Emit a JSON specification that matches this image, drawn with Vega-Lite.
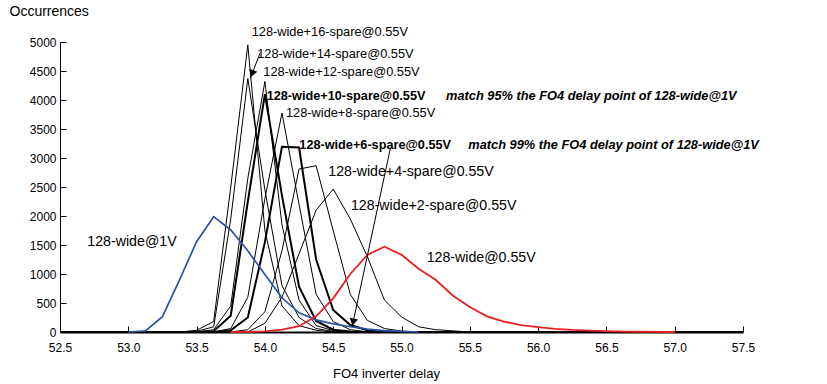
{
  "$schema": "https://vega.github.io/schema/vega-lite/v6.json",
  "width": 683,
  "height": 290,
  "autosize": {"type": "none"},
  "padding": {"left": 60, "top": 42, "right": 84, "bottom": 52},
  "background": "white",
  "config": {
    "view": {"stroke": null},
    "font": "Liberation Sans",
    "axis": {
      "domainColor": "black",
      "tickColor": "black",
      "labelColor": "black",
      "titleColor": "black",
      "labelFont": "Liberation Sans",
      "titleFont": "Liberation Sans",
      "grid": false,
      "labelFontSize": 12,
      "titleFontWeight": "normal",
      "titleFontSize": 13,
      "tickSize": -6
    }
  },
  "datasets": {
    "curves": [
      {"series": "128-wide@1V", "x": 53.0, "y": 0},
      {"series": "128-wide@1V", "x": 53.125, "y": 20},
      {"series": "128-wide@1V", "x": 53.25, "y": 264},
      {"series": "128-wide@1V", "x": 53.375, "y": 900},
      {"series": "128-wide@1V", "x": 53.5, "y": 1557},
      {"series": "128-wide@1V", "x": 53.625, "y": 1988},
      {"series": "128-wide@1V", "x": 53.75, "y": 1759},
      {"series": "128-wide@1V", "x": 53.875, "y": 1400},
      {"series": "128-wide@1V", "x": 54.0, "y": 990},
      {"series": "128-wide@1V", "x": 54.125, "y": 590},
      {"series": "128-wide@1V", "x": 54.25, "y": 330},
      {"series": "128-wide@1V", "x": 54.375, "y": 210},
      {"series": "128-wide@1V", "x": 54.5, "y": 140},
      {"series": "128-wide@1V", "x": 54.625, "y": 90},
      {"series": "128-wide@1V", "x": 54.75, "y": 50},
      {"series": "128-wide@1V", "x": 54.875, "y": 25},
      {"series": "128-wide@1V", "x": 55.0, "y": 10},
      {"series": "128-wide@1V", "x": 55.125, "y": 0},
      {"series": "128-wide@0.55V", "x": 53.75, "y": 0},
      {"series": "128-wide@0.55V", "x": 53.875, "y": 3},
      {"series": "128-wide@0.55V", "x": 54.0, "y": 10},
      {"series": "128-wide@0.55V", "x": 54.125, "y": 40},
      {"series": "128-wide@0.55V", "x": 54.25, "y": 100},
      {"series": "128-wide@0.55V", "x": 54.375, "y": 270},
      {"series": "128-wide@0.55V", "x": 54.5, "y": 580},
      {"series": "128-wide@0.55V", "x": 54.625, "y": 1000},
      {"series": "128-wide@0.55V", "x": 54.75, "y": 1330},
      {"series": "128-wide@0.55V", "x": 54.875, "y": 1470},
      {"series": "128-wide@0.55V", "x": 55.0, "y": 1330},
      {"series": "128-wide@0.55V", "x": 55.125, "y": 1090},
      {"series": "128-wide@0.55V", "x": 55.25, "y": 900},
      {"series": "128-wide@0.55V", "x": 55.375, "y": 630},
      {"series": "128-wide@0.55V", "x": 55.5, "y": 430},
      {"series": "128-wide@0.55V", "x": 55.625, "y": 270},
      {"series": "128-wide@0.55V", "x": 55.75, "y": 180},
      {"series": "128-wide@0.55V", "x": 55.875, "y": 120},
      {"series": "128-wide@0.55V", "x": 56.0, "y": 85},
      {"series": "128-wide@0.55V", "x": 56.125, "y": 55},
      {"series": "128-wide@0.55V", "x": 56.25, "y": 35},
      {"series": "128-wide@0.55V", "x": 56.375, "y": 22},
      {"series": "128-wide@0.55V", "x": 56.5, "y": 14},
      {"series": "128-wide@0.55V", "x": 56.625, "y": 8},
      {"series": "128-wide@0.55V", "x": 56.75, "y": 4},
      {"series": "128-wide@0.55V", "x": 56.875, "y": 2},
      {"series": "128-wide@0.55V", "x": 57.0, "y": 0},

      {"series": "128-wide+16-spare@0.55V", "x": 52.5, "y": 0},
      {"series": "128-wide+16-spare@0.55V", "x": 53.375, "y": 0},
      {"series": "128-wide+16-spare@0.55V", "x": 53.5, "y": 30},
      {"series": "128-wide+16-spare@0.55V", "x": 53.625, "y": 180},
      {"series": "128-wide+16-spare@0.55V", "x": 53.75, "y": 2500},
      {"series": "128-wide+16-spare@0.55V", "x": 53.875, "y": 4950},
      {"series": "128-wide+16-spare@0.55V", "x": 54.0, "y": 1750},
      {"series": "128-wide+16-spare@0.55V", "x": 54.125, "y": 450},
      {"series": "128-wide+16-spare@0.55V", "x": 54.25, "y": 110},
      {"series": "128-wide+16-spare@0.55V", "x": 54.375, "y": 30},
      {"series": "128-wide+16-spare@0.55V", "x": 54.5, "y": 0},
      {"series": "128-wide+16-spare@0.55V", "x": 57.5, "y": 0},

      {"series": "128-wide+14-spare@0.55V", "x": 52.5, "y": 0},
      {"series": "128-wide+14-spare@0.55V", "x": 53.375, "y": 0},
      {"series": "128-wide+14-spare@0.55V", "x": 53.5, "y": 10},
      {"series": "128-wide+14-spare@0.55V", "x": 53.625, "y": 90},
      {"series": "128-wide+14-spare@0.55V", "x": 53.75, "y": 1950},
      {"series": "128-wide+14-spare@0.55V", "x": 53.875, "y": 4370},
      {"series": "128-wide+14-spare@0.55V", "x": 54.0, "y": 2450},
      {"series": "128-wide+14-spare@0.55V", "x": 54.125, "y": 800},
      {"series": "128-wide+14-spare@0.55V", "x": 54.25, "y": 250},
      {"series": "128-wide+14-spare@0.55V", "x": 54.375, "y": 60},
      {"series": "128-wide+14-spare@0.55V", "x": 54.5, "y": 10},
      {"series": "128-wide+14-spare@0.55V", "x": 54.625, "y": 0},
      {"series": "128-wide+14-spare@0.55V", "x": 57.5, "y": 0},

      {"series": "128-wide+12-spare@0.55V", "x": 52.5, "y": 0},
      {"series": "128-wide+12-spare@0.55V", "x": 53.5, "y": 0},
      {"series": "128-wide+12-spare@0.55V", "x": 53.625, "y": 40},
      {"series": "128-wide+12-spare@0.55V", "x": 53.75, "y": 450},
      {"series": "128-wide+12-spare@0.55V", "x": 53.875, "y": 2650},
      {"series": "128-wide+12-spare@0.55V", "x": 54.0, "y": 4320},
      {"series": "128-wide+12-spare@0.55V", "x": 54.125, "y": 1850},
      {"series": "128-wide+12-spare@0.55V", "x": 54.25, "y": 550},
      {"series": "128-wide+12-spare@0.55V", "x": 54.375, "y": 110},
      {"series": "128-wide+12-spare@0.55V", "x": 54.5, "y": 25},
      {"series": "128-wide+12-spare@0.55V", "x": 54.625, "y": 0},
      {"series": "128-wide+12-spare@0.55V", "x": 57.5, "y": 0},

      {"series": "128-wide+10-spare@0.55V", "x": 52.5, "y": 0},
      {"series": "128-wide+10-spare@0.55V", "x": 53.5, "y": 0},
      {"series": "128-wide+10-spare@0.55V", "x": 53.625, "y": 15},
      {"series": "128-wide+10-spare@0.55V", "x": 53.75, "y": 280},
      {"series": "128-wide+10-spare@0.55V", "x": 53.875, "y": 2250},
      {"series": "128-wide+10-spare@0.55V", "x": 54.0, "y": 4100},
      {"series": "128-wide+10-spare@0.55V", "x": 54.125, "y": 2350},
      {"series": "128-wide+10-spare@0.55V", "x": 54.25, "y": 780},
      {"series": "128-wide+10-spare@0.55V", "x": 54.375, "y": 190},
      {"series": "128-wide+10-spare@0.55V", "x": 54.5, "y": 40},
      {"series": "128-wide+10-spare@0.55V", "x": 54.625, "y": 10},
      {"series": "128-wide+10-spare@0.55V", "x": 54.75, "y": 0},
      {"series": "128-wide+10-spare@0.55V", "x": 57.5, "y": 0},

      {"series": "128-wide+8-spare@0.55V", "x": 52.5, "y": 0},
      {"series": "128-wide+8-spare@0.55V", "x": 53.625, "y": 0},
      {"series": "128-wide+8-spare@0.55V", "x": 53.75, "y": 60},
      {"series": "128-wide+8-spare@0.55V", "x": 53.875, "y": 600},
      {"series": "128-wide+8-spare@0.55V", "x": 54.0, "y": 2300},
      {"series": "128-wide+8-spare@0.55V", "x": 54.125, "y": 3776},
      {"series": "128-wide+8-spare@0.55V", "x": 54.25, "y": 2200},
      {"series": "128-wide+8-spare@0.55V", "x": 54.375, "y": 650},
      {"series": "128-wide+8-spare@0.55V", "x": 54.5, "y": 180},
      {"series": "128-wide+8-spare@0.55V", "x": 54.625, "y": 40},
      {"series": "128-wide+8-spare@0.55V", "x": 54.75, "y": 0},
      {"series": "128-wide+8-spare@0.55V", "x": 57.5, "y": 0},

      {"series": "128-wide+6-spare@0.55V", "x": 52.5, "y": 0},
      {"series": "128-wide+6-spare@0.55V", "x": 53.625, "y": 0},
      {"series": "128-wide+6-spare@0.55V", "x": 53.75, "y": 30},
      {"series": "128-wide+6-spare@0.55V", "x": 53.875, "y": 250},
      {"series": "128-wide+6-spare@0.55V", "x": 54.0, "y": 1550},
      {"series": "128-wide+6-spare@0.55V", "x": 54.125, "y": 3195},
      {"series": "128-wide+6-spare@0.55V", "x": 54.25, "y": 3180},
      {"series": "128-wide+6-spare@0.55V", "x": 54.375, "y": 1250},
      {"series": "128-wide+6-spare@0.55V", "x": 54.5, "y": 380},
      {"series": "128-wide+6-spare@0.55V", "x": 54.625, "y": 120},
      {"series": "128-wide+6-spare@0.55V", "x": 54.75, "y": 30},
      {"series": "128-wide+6-spare@0.55V", "x": 54.875, "y": 0},
      {"series": "128-wide+6-spare@0.55V", "x": 57.5, "y": 0},

      {"series": "128-wide+4-spare@0.55V", "x": 52.5, "y": 0},
      {"series": "128-wide+4-spare@0.55V", "x": 53.75, "y": 0},
      {"series": "128-wide+4-spare@0.55V", "x": 53.875, "y": 40},
      {"series": "128-wide+4-spare@0.55V", "x": 54.0, "y": 350},
      {"series": "128-wide+4-spare@0.55V", "x": 54.125, "y": 1400},
      {"series": "128-wide+4-spare@0.55V", "x": 54.25, "y": 2810},
      {"series": "128-wide+4-spare@0.55V", "x": 54.375, "y": 2867},
      {"series": "128-wide+4-spare@0.55V", "x": 54.5, "y": 1750},
      {"series": "128-wide+4-spare@0.55V", "x": 54.625, "y": 650},
      {"series": "128-wide+4-spare@0.55V", "x": 54.75, "y": 200},
      {"series": "128-wide+4-spare@0.55V", "x": 54.875, "y": 60},
      {"series": "128-wide+4-spare@0.55V", "x": 55.0, "y": 15},
      {"series": "128-wide+4-spare@0.55V", "x": 55.125, "y": 0},
      {"series": "128-wide+4-spare@0.55V", "x": 57.5, "y": 0},

      {"series": "128-wide+2-spare@0.55V", "x": 52.5, "y": 0},
      {"series": "128-wide+2-spare@0.55V", "x": 53.875, "y": 0},
      {"series": "128-wide+2-spare@0.55V", "x": 54.0, "y": 150},
      {"series": "128-wide+2-spare@0.55V", "x": 54.125, "y": 600},
      {"series": "128-wide+2-spare@0.55V", "x": 54.25, "y": 1350},
      {"series": "128-wide+2-spare@0.55V", "x": 54.375, "y": 2100},
      {"series": "128-wide+2-spare@0.55V", "x": 54.5, "y": 2465},
      {"series": "128-wide+2-spare@0.55V", "x": 54.625, "y": 1950},
      {"series": "128-wide+2-spare@0.55V", "x": 54.75, "y": 1300},
      {"series": "128-wide+2-spare@0.55V", "x": 54.875, "y": 550},
      {"series": "128-wide+2-spare@0.55V", "x": 55.0, "y": 260},
      {"series": "128-wide+2-spare@0.55V", "x": 55.125, "y": 90},
      {"series": "128-wide+2-spare@0.55V", "x": 55.25, "y": 40},
      {"series": "128-wide+2-spare@0.55V", "x": 55.375, "y": 20},
      {"series": "128-wide+2-spare@0.55V", "x": 55.5, "y": 0},
      {"series": "128-wide+2-spare@0.55V", "x": 57.5, "y": 0}
    ],
    "arrows": [
      {"id": "a14", "x": 53.964, "y": 4805, "x2": 53.893, "y2": 4374, "hx": 53.906, "hy": 4455},
      {"id": "a6", "x": 54.919, "y": 3172, "x2": 54.638, "y2": 86, "hx": 54.646, "hy": 171}
    ],
    "labelsNormal": [
      {"x": 53.903, "y": 5172, "text": "128-wide+16-spare@0.55V"},
      {"x": 53.944, "y": 4788, "text": "128-wide+14-spare@0.55V"},
      {"x": 53.988, "y": 4478, "text": "128-wide+12-spare@0.55V"},
      {"x": 54.154, "y": 3771, "text": "128-wide+8-spare@0.55V"}
    ],
    "labelsLarge": [
      {"x": 54.464, "y": 2764, "text": "128-wide+4-spare@0.55V"},
      {"x": 54.63, "y": 2172, "text": "128-wide+2-spare@0.55V"},
      {"x": 55.184, "y": 1270, "text": "128-wide@0.55V"},
      {"x": 52.7, "y": 1557, "text": "128-wide@1V"}
    ],
    "labelsBold": [
      {"x": 54.013, "y": 4069, "text": "128-wide+10-spare@0.55V"},
      {"x": 54.252, "y": 3224, "text": "128-wide+6-spare@0.55V"}
    ],
    "labelsNote": [
      {"x": 55.326, "y": 4069, "text": "match 95% the FO4 delay point of 128-wide@1V"},
      {"x": 55.489, "y": 3224, "text": "match 99% the FO4 delay point of 128-wide@1V"}
    ]
  },
  "encoding": {
    "x": {
      "field": "x",
      "type": "quantitative",
      "scale": {"domain": [52.5, 57.5], "nice": false, "zero": false},
      "axis": {
        "values": [52.5, 53, 53.5, 54, 54.5, 55, 55.5, 56, 56.5, 57, 57.5],
        "format": ".1f",
        "title": "FO4 inverter delay",
        "labelPadding": 16,
        "labelFlush": false,
        "domainWidth": 2,
        "titleX": 326,
        "titleY": 41,
        "titleBaseline": "middle",
        "titleAnchor": "middle"
      }
    },
    "y": {
      "field": "y",
      "type": "quantitative",
      "scale": {"domain": [0, 5000], "nice": false},
      "axis": {
        "values": [0, 500, 1000, 1500, 2000, 2500, 3000, 3500, 4000, 4500, 5000],
        "format": "d",
        "title": "Occurrences",
        "titleAngle": 0,
        "titleAlign": "left",
        "titleBaseline": "middle",
        "titleX": -51,
        "titleY": -31,
        "titleFontSize": 14,
        "labelPadding": 10
      }
    }
  },
  "layer": [
    {
      "data": {"name": "curves"},
      "transform": [{"filter": "datum.series !== '128-wide@1V' && datum.series !== '128-wide@0.55V'"}],
      "mark": {"type": "line", "color": "black", "strokeJoin": "miter"},
      "encoding": {
        "detail": {"field": "series", "type": "nominal"},
        "strokeWidth": {
          "condition": {"test": "datum.series === '128-wide+10-spare@0.55V' || datum.series === '128-wide+6-spare@0.55V'", "value": 2},
          "value": 1
        }
      }
    },
    {
      "data": {"name": "curves"},
      "transform": [{"filter": "datum.series === '128-wide@1V'"}],
      "mark": {"type": "line", "color": "#2b54a6", "strokeWidth": 1.7}
    },
    {
      "data": {"name": "curves"},
      "transform": [{"filter": "datum.series === '128-wide@0.55V'"}],
      "mark": {"type": "line", "color": "#e82020", "strokeWidth": 1.8}
    },
    {
      "data": {"name": "arrows"},
      "mark": {"type": "rule", "color": "black", "strokeWidth": 1},
      "encoding": {
        "x2": {"field": "x2"},
        "y2": {"field": "y2"}
      }
    },
    {
      "data": {"name": "arrows"},
      "mark": {"type": "point", "shape": "triangle-down", "filled": true, "color": "black", "opacity": 1, "size": 70},
      "encoding": {
        "x": {"field": "hx", "type": "quantitative"},
        "y": {"field": "hy", "type": "quantitative"},
        "angle": {"field": "id", "type": "nominal", "scale": {"domain": ["a14", "a6"], "range": [21, 12]}, "legend": null}
      }
    },
    {
      "data": {"name": "labelsNormal"},
      "mark": {"type": "text", "align": "left", "baseline": "middle", "fontSize": 12.8, "font": "Liberation Sans", "color": "black"},
      "encoding": {"text": {"field": "text"}}
    },
    {
      "data": {"name": "labelsLarge"},
      "mark": {"type": "text", "align": "left", "baseline": "middle", "fontSize": 14.2, "font": "Liberation Sans", "color": "black"},
      "encoding": {"text": {"field": "text"}}
    },
    {
      "data": {"name": "labelsBold"},
      "mark": {"type": "text", "align": "left", "baseline": "middle", "fontSize": 12.7, "font": "Liberation Sans", "fontWeight": "bold", "color": "black"},
      "encoding": {"text": {"field": "text"}}
    },
    {
      "data": {"name": "labelsNote"},
      "mark": {"type": "text", "align": "left", "baseline": "middle", "fontSize": 12.8, "font": "Liberation Sans", "fontWeight": "bold", "fontStyle": "italic", "color": "black"},
      "encoding": {"text": {"field": "text"}}
    }
  ]
}
